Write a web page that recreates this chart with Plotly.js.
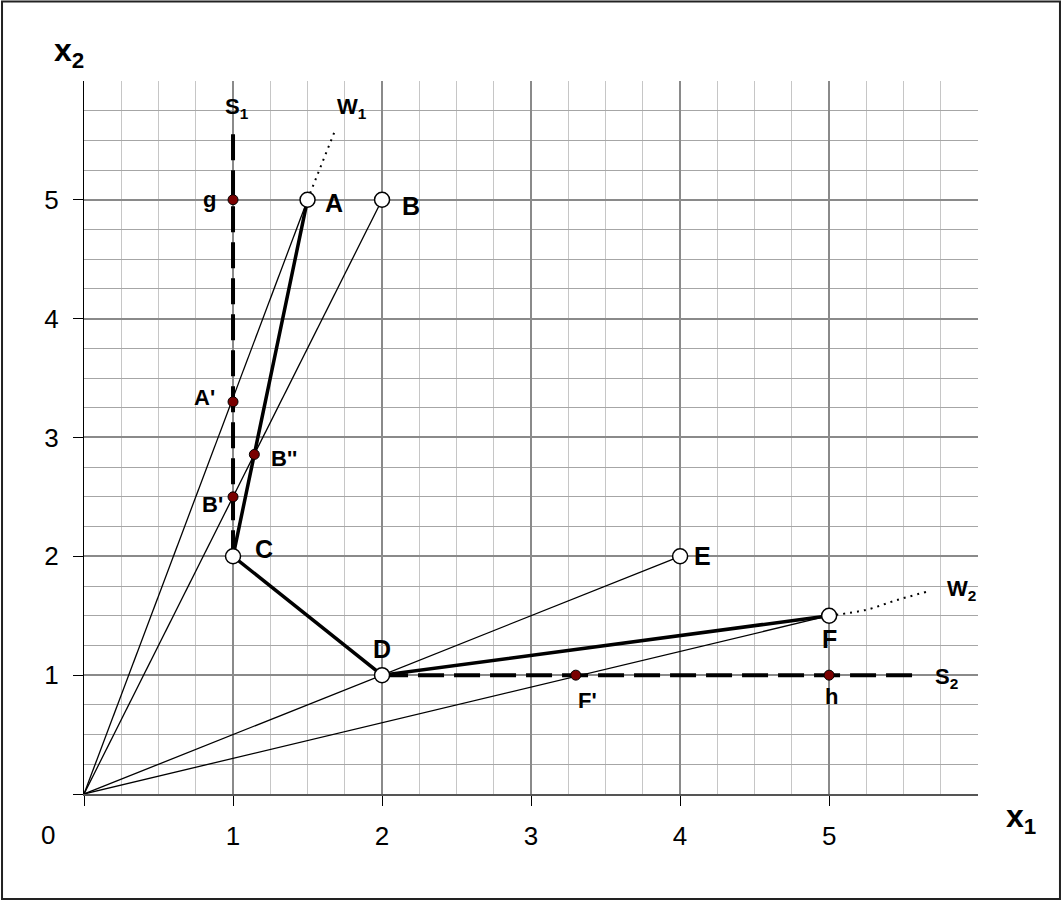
<!DOCTYPE html>
<html>
<head>
<meta charset="utf-8">
<script src="https://cdn.plot.ly/plotly-3.0.1.min.js"></script>
<style>
  html, body { margin: 0; padding: 0; background: #fff; }
  #chart { width: 1061px; height: 901px; }
</style>
</head>
<body>
<div id="chart"></div>
<script>
// Corner points (open circles)
const openLabels = ['A', 'B', 'C', 'D', 'E', 'F'];
const openX = [1.5, 2, 1, 2, 4, 5];
const openY = [5, 5, 2, 1, 2, 1.5];

// Intersection points (dark red dots)
const redLabels = ['g', "A'", "B'", "B''", "F'", 'h'];
const redX = [1, 1, 1, 1.143, 3.3, 5];
const redY = [5, 3.3, 2.5, 2.857, 1, 1];

// Rays from origin go to A, B, E, F
const rayTargets = ['A', 'B', 'E', 'F'];

// Thick polyline A-C-D-F
const pathX = [1.5, 1, 2, 5];
const pathY = [5, 2, 1, 1.5];

// Dashed lines S1 and S2
const s1X = [1, 1];
const s1Y = [2, 5.6];
const s2X = [2, 5.6];
const s2Y = [1, 1];

// Dotted continuations W1 and W2
const w1X = [1.5, 1.69];
const w1Y = [5, 5.6];
const w2X = [5, 5.25, 5.45, 5.65];
const w2Y = [1.5, 1.55, 1.63, 1.7];

// Tick labels
const xTickVals = [0, 1, 2, 3, 4, 5];
const xTickText = ['', '1', '2', '3', '4', '5'];
const yTickVals = [0, 1, 2, 3, 4, 5];
const yTickText = ['', '1', '2', '3', '4', '5'];

const FONT = 'Arial, Liberation Sans, sans-serif';

const traces = [];

// thin rays from the origin
rayTargets.forEach(name => {
    const i = openLabels.indexOf(name);
    traces.push({
        x: [0, openX[i]], y: [0, openY[i]],
        mode: 'lines', line: { color: '#000', width: 1.3 },
        hoverinfo: 'skip', showlegend: false, cliponaxis: false
    });
});

// S1, S2 dashed
[[s1X, s1Y], [s2X, s2Y]].forEach(([xs, ys]) => {
    traces.push({
        x: xs, y: ys, mode: 'lines',
        line: { color: '#000', width: 4, dash: '26px,10px' },
        hoverinfo: 'skip', showlegend: false
    });
});

// thick path
traces.push({
    x: pathX, y: pathY, mode: 'lines',
    line: { color: '#000', width: 3.5 },
    hoverinfo: 'skip', showlegend: false
});

// W1, W2 dotted
[[w1X, w1Y], [w2X, w2Y]].forEach(([xs, ys]) => {
    traces.push({
        x: xs, y: ys, mode: 'lines',
        line: { color: '#000', width: 2, dash: '2px,5px', shape: 'spline' },
        hoverinfo: 'skip', showlegend: false
    });
});

// red dots
traces.push({
    x: redX, y: redY, mode: 'markers',
    marker: { size: 10, color: '#7a0000', line: { color: '#000', width: 1 } },
    hoverinfo: 'skip', showlegend: false
});

// open circles
traces.push({
    x: openX, y: openY, mode: 'markers',
    marker: { size: 15, color: '#fff', line: { color: '#000', width: 1.5 } },
    hoverinfo: 'skip', showlegend: false, cliponaxis: false
});

// point labels, shifted in pixels from their points
const openShift = {
    A: [26, -3], B: [29, -6], C: [31, 7], D: [0, 26], E: [22, 0], F: [0, -23]
};
const redShift = {
    'g': [-24, 0], "A'": [-29, 4], "B'": [-21, -8], "B''": [30, -4], "F'": [12, -25], 'h': [2, -21]
};

const annotations = [];
openLabels.forEach((t, i) => {
    annotations.push({
        x: openX[i], y: openY[i], text: '<b>' + t + '</b>', showarrow: false,
        xshift: openShift[t][0], yshift: openShift[t][1],
        font: { family: FONT, size: 25, color: '#000' }
    });
});
redLabels.forEach((t, i) => {
    annotations.push({
        x: redX[i], y: redY[i], text: '<b>' + t + '</b>', showarrow: false,
        xshift: redShift[t][0], yshift: redShift[t][1],
        font: { family: FONT, size: 22, color: '#000' }
    });
});

// line names at the ends of S and W lines
const lineNames = [
    { text: '<b>S<sub>1</sub></b>', x: s1X[1], y: s1Y[1], xs: 4, ys: 20 },
    { text: '<b>S<sub>2</sub></b>', x: s2X[1], y: s2Y[1], xs: 28, ys: -3 },
    { text: '<b>W<sub>1</sub></b>', x: w1X[1], y: w1Y[1], xs: 16, ys: 20 },
    { text: '<b>W<sub>2</sub></b>', x: w2X[w2X.length - 1], y: w2Y[w2Y.length - 1], xs: 36, ys: 2 }
];
lineNames.forEach(n => {
    annotations.push({
        x: n.x, y: n.y, text: n.text, showarrow: false,
        xshift: n.xs, yshift: n.ys,
        font: { family: FONT, size: 22, color: '#000' }
    });
});

// axis names and the origin label
annotations.push({
    xref: 'paper', yref: 'paper', x: -0.036, y: 1.071,
    text: '<b>x<sub>2</sub></b>', showarrow: false,
    font: { family: FONT, size: 32, color: '#000' }
});
annotations.push({
    xref: 'paper', yref: 'paper', x: 1.067, y: -0.066,
    text: '<b>x<sub>1</sub></b>', showarrow: false,
    font: { family: FONT, size: 32, color: '#000' }
});
annotations.push({
    xref: 'paper', yref: 'paper', x: -0.05, y: -0.081,
    text: '0', showarrow: false,
    font: { family: FONT, size: 26, color: '#000' }
});

const layout = {
    width: 1061,
    height: 901,
    margin: { l: 84, r: 83, t: 81, b: 107, pad: 0 },
    paper_bgcolor: '#fff',
    plot_bgcolor: '#fff',
    showlegend: false,
    xaxis: {
        range: [0, 5.999],
        tickvals: xTickVals, ticktext: xTickText,
        ticks: 'outside', ticklen: 10, tickcolor: '#000', tickwidth: 1,
        ticklabelstandoff: 8,
        tickfont: { family: FONT, size: 26, color: '#000' },
        showgrid: true, gridcolor: '#8a8a8a', gridwidth: 2,
        minor: { dtick: 0.25, tick0: 0, showgrid: true, gridcolor: '#c6c6c6', gridwidth: 1, ticks: '' },
        showline: true, linecolor: '#555', linewidth: 2,
        zeroline: false, fixedrange: true
    },
    yaxis: {
        range: [0, 5.999],
        tickvals: yTickVals, ticktext: yTickText,
        ticks: 'outside', ticklen: 10, tickcolor: '#000', tickwidth: 1,
        ticklabelstandoff: 9,
        tickfont: { family: FONT, size: 26, color: '#000' },
        showgrid: true, gridcolor: '#8a8a8a', gridwidth: 2,
        minor: { dtick: 0.25, tick0: 0, showgrid: true, gridcolor: '#a6a6a6', gridwidth: 1, ticks: '' },
        showline: true, linecolor: '#000', linewidth: 1,
        zeroline: false, fixedrange: true
    },
    shapes: [{
        type: 'rect', xref: 'paper', yref: 'paper',
        x0: -0.0917, x1: 1.0917, y0: -0.1473, y1: 1.1115,
        line: { color: '#222', width: 2 }, layer: 'below'
    }],
    annotations: annotations
};

Plotly.newPlot('chart', traces, layout, { staticPlot: true });
</script>
</body>
</html>
